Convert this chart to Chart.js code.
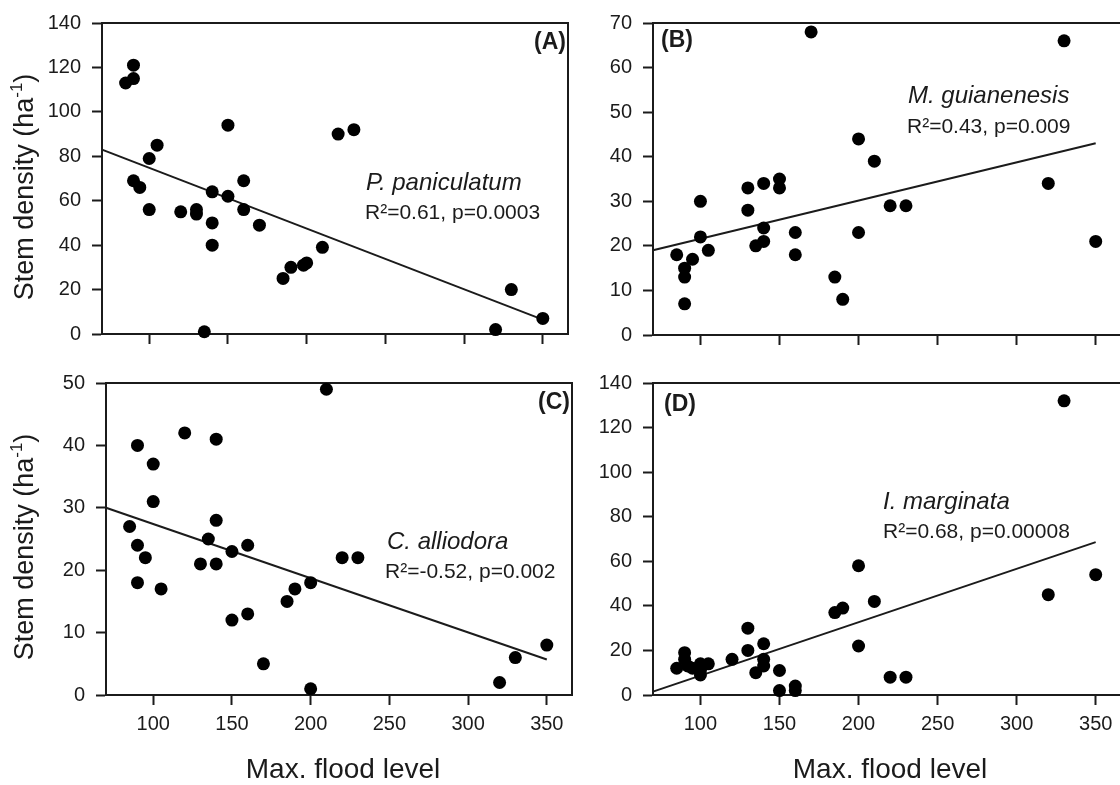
<!DOCTYPE html>
<html>
<head>
<meta charset="utf-8">
<title>Stem density vs. maximum flood level</title>
<script src="https://cdn.jsdelivr.net/npm/chart.js@4.4.1/dist/chart.umd.min.js"></script>
<style>
  html, body { margin: 0; padding: 0; background: #fff; width: 1120px; height: 785px; overflow: hidden; }
  canvas { position: absolute; }
</style>
</head>
<body>
<canvas id="pA" width="590" height="360" style="left:0;top:0"></canvas>
<canvas id="pB" width="545" height="360" style="left:590px;top:0"></canvas>
<canvas id="pC" width="590" height="425" style="left:0;top:360px"></canvas>
<canvas id="pD" width="545" height="425" style="left:590px;top:360px"></canvas>
<script>
// ---- tick values ----
const xTickValues = [100, 150, 200, 250, 300, 350];
const yTicksA = [0, 20, 40, 60, 80, 100, 120, 140];
const yTicksB = [0, 10, 20, 30, 40, 50, 60, 70];
const yTicksC = [0, 10, 20, 30, 40, 50];
const yTicksD = [0, 20, 40, 60, 80, 100, 120, 140];

// ---- (A) P. paniculatum ----
const floodA   = [85, 90, 90, 105, 100, 90, 94, 100, 120, 130, 130, 140, 140, 140, 135, 150, 150, 160, 160, 170, 185, 190, 198, 200, 210, 220, 230, 330, 320, 350];
const densityA = [113, 121, 115, 85, 79, 69, 66, 56, 55, 56, 54, 64, 50, 40, 1, 94, 62, 69, 56, 49, 25, 30, 31, 32, 39, 90, 92, 20, 2, 7];
const fitFloodA   = [70, 350];
const fitDensityA = [83, 6.5];

// ---- (B) M. guianenesis ----
const floodB   = [170, 85, 90, 90, 90, 95, 100, 100, 105, 130, 130, 140, 140, 140, 135, 150, 150, 160, 160, 185, 190, 200, 200, 210, 220, 230, 330, 320, 350];
const densityB = [68, 18, 15, 13, 7, 17, 30, 22, 19, 33, 28, 34, 24, 21, 20, 35, 33, 23, 18, 13, 8, 44, 23, 39, 29, 29, 66, 34, 21];
const fitFloodB   = [70, 350];
const fitDensityB = [19, 43];

// ---- (C) C. alliodora ----
const floodC   = [210, 120, 140, 90, 100, 100, 140, 85, 135, 90, 160, 150, 95, 130, 140, 90, 105, 200, 190, 185, 160, 150, 170, 200, 220, 230, 350, 330, 320];
const densityC = [49, 42, 41, 40, 37, 31, 28, 27, 25, 24, 24, 23, 22, 21, 21, 18, 17, 18, 17, 15, 13, 12, 5, 1, 22, 22, 8, 6, 2];
const fitFloodC   = [70, 350];
const fitDensityC = [30, 5.7];

// ---- (D) I. marginata ----
const floodD   = [85, 90, 90, 92, 95, 100, 100, 100, 105, 120, 130, 130, 140, 140, 140, 135, 150, 150, 160, 160, 185, 190, 200, 200, 210, 220, 230, 330, 320, 350];
const densityD = [12, 19, 16, 13, 12, 14, 9, 11, 14, 16, 30, 20, 23, 16, 13, 10, 11, 2, 4, 2, 37, 39, 58, 22, 42, 8, 8, 132, 45, 54];
const fitFloodD   = [70, 350];
const fitDensityD = [1.5, 68.6];

// ---- labels ----
const speciesNames = ['P. paniculatum', 'M. guianenesis', 'C. alliodora', 'I. marginata'];
const statLabels   = ['R\u00B2=0.61, p=0.0003', 'R\u00B2=0.43, p=0.009', 'R\u00B2=-0.52, p=0.002', 'R\u00B2=0.68, p=0.00008'];
const panelTags    = ['(A)', '(B)', '(C)', '(D)'];
const xTitle = 'Max. flood level';
const yTitleMain = 'Stem density (ha';
const yTitleSup = '-1';
const yTitleEnd = ')';

const FONT = '"Liberation Sans", Arial, Helvetica, sans-serif';
const INK = '#1b1b1b';

// Panel layout: canvas-local plot-area edges and text anchors
const panels = [
  { id: 'pA', flood: floodA, density: densityA, fx: fitFloodA, fy: fitDensityA, yTicks: yTicksA, yMax: 140,
    area: { l: 102, t: 19, r: 568, b: 334 }, xLabels: false, yTitle: { x: 26, y: 187 }, xTitleAt: null,
    sp: { x: 366, y: 183 }, st: { x: 365, y: 213 }, tag: { x: 566, y: 43, align: 'right' }, idx: 0 },
  { id: 'pB', flood: floodB, density: densityB, fx: fitFloodB, fy: fitDensityB, yTicks: yTicksB, yMax: 70,
    area: { l: 63, t: 20, r: 531, b: 335 }, xLabels: false, yTitle: null, xTitleAt: null,
    sp: { x: 318, y: 96 }, st: { x: 317, y: 127 }, tag: { x: 71, y: 41, align: 'left' }, idx: 1 },
  { id: 'pC', flood: floodC, density: densityC, fx: fitFloodC, fy: fitDensityC, yTicks: yTicksC, yMax: 50,
    area: { l: 106, t: 20, r: 572, b: 335 }, xLabels: true, yTitle: { x: 26, y: 187 }, xTitleAt: { x: 343, y: 418 },
    sp: { x: 387, y: 182 }, st: { x: 385, y: 212 }, tag: { x: 570, y: 43, align: 'right' }, idx: 2 },
  { id: 'pD', flood: floodD, density: densityD, fx: fitFloodD, fy: fitDensityD, yTicks: yTicksD, yMax: 140,
    area: { l: 63, t: 20, r: 531, b: 335 }, xLabels: true, yTitle: null, xTitleAt: { x: 300, y: 418 },
    sp: { x: 293, y: 142 }, st: { x: 293, y: 172 }, tag: { x: 74, y: 45, align: 'left' }, idx: 3 }
];

// Frame, panel tag, species/statistics text and axis titles
const decorPlugin = {
  id: 'decor',
  beforeDatasetsDraw(chart, args, opts) {
    const { ctx, chartArea: a } = chart;
    ctx.save();
    ctx.strokeStyle = INK;
    ctx.lineWidth = 2;
    ctx.beginPath();
    ctx.moveTo(a.left, a.top);
    ctx.lineTo(a.right, a.top);
    ctx.lineTo(a.right, a.bottom);
    ctx.stroke();
    ctx.restore();
  },
  afterDraw(chart, args, opts) {
    const p = opts.panel;
    const ctx = chart.ctx;
    ctx.save();
    ctx.fillStyle = INK;
    ctx.textBaseline = 'middle';

    ctx.font = 'bold 23px ' + FONT;
    ctx.textAlign = p.tag.align;
    ctx.fillText(panelTags[p.idx], p.tag.x, p.tag.y);

    ctx.textAlign = 'left';
    ctx.font = 'italic 24px ' + FONT;
    ctx.fillText(speciesNames[p.idx], p.sp.x, p.sp.y);
    ctx.font = '21px ' + FONT;
    ctx.fillText(statLabels[p.idx], p.st.x, p.st.y);

    if (p.xTitleAt) {
      ctx.font = '28px ' + FONT;
      ctx.textAlign = 'center';
      ctx.textBaseline = 'alphabetic';
      ctx.fillText(xTitle, p.xTitleAt.x, p.xTitleAt.y);
    }

    if (p.yTitle) {
      const big = '27px ' + FONT, small = '17px ' + FONT;
      ctx.font = big;
      const w1 = ctx.measureText(yTitleMain).width;
      const w3 = ctx.measureText(yTitleEnd).width;
      ctx.font = small;
      const w2 = ctx.measureText(yTitleSup).width;
      const total = w1 + w2 + w3;
      ctx.translate(p.yTitle.x, p.yTitle.y);
      ctx.rotate(-Math.PI / 2);
      ctx.textAlign = 'left';
      ctx.textBaseline = 'middle';
      let x = -total / 2;
      ctx.font = big;
      ctx.fillText(yTitleMain, x, 0);
      x += w1;
      ctx.font = small;
      ctx.fillText(yTitleSup, x, -9);
      x += w2;
      ctx.font = big;
      ctx.fillText(yTitleEnd, x, 0);
    }
    ctx.restore();
  }
};

function toPoints(xs, ys) {
  return xs.map((x, i) => ({ x: x, y: ys[i] }));
}

panels.forEach(p => {
  const canvas = document.getElementById(p.id);
  const W = canvas.width, H = canvas.height;
  new Chart(canvas, {
    type: 'scatter',
    data: {
      datasets: [
        {
          data: toPoints(p.flood, p.density),
          pointRadius: 6.5,
          pointHoverRadius: 6.5,
          pointBackgroundColor: '#000',
          pointBorderWidth: 0,
          showLine: false,
          clip: false,
          order: 1
        },
        {
          data: toPoints(p.fx, p.fy),
          showLine: true,
          borderColor: INK,
          borderWidth: 2,
          pointRadius: 0,
          fill: false,
          clip: false,
          order: 2
        }
      ]
    },
    options: {
      responsive: false,
      devicePixelRatio: 1,
      animation: false,
      events: [],
      layout: { padding: { top: p.area.t, right: W - p.area.r, left: 0, bottom: 0 } },
      plugins: {
        legend: { display: false },
        tooltip: { enabled: false },
        decor: { panel: p }
      },
      scales: {
        x: {
          type: 'linear',
          min: 70,
          max: 366,
          afterBuildTicks: s => { s.ticks = xTickValues.map(v => ({ value: v })); },
          afterFit: s => { s.height = H - p.area.b; },
          grid: { drawOnChartArea: false, drawTicks: true, tickLength: 10, tickWidth: 2, tickColor: INK },
          border: { display: true, color: INK, width: 2 },
          ticks: { display: p.xLabels, color: INK, font: { family: FONT, size: 20 }, padding: 7, maxRotation: 0 }
        },
        y: {
          type: 'linear',
          min: 0,
          max: p.yMax,
          afterBuildTicks: s => { s.ticks = p.yTicks.map(v => ({ value: v })); },
          afterFit: s => { s.width = p.area.l; },
          grid: { drawOnChartArea: false, drawTicks: true, tickLength: 10, tickWidth: 2, tickColor: INK },
          border: { display: true, color: INK, width: 2 },
          ticks: { color: INK, font: { family: FONT, size: 20 }, padding: 11 }
        }
      }
    },
    plugins: [decorPlugin]
  });
});
</script>
</body>
</html>
